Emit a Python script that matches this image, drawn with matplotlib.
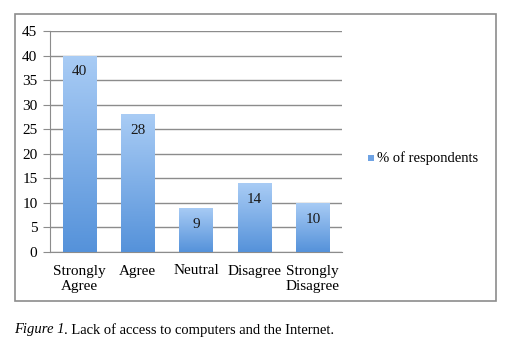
import matplotlib
matplotlib.use('Agg')
import matplotlib.pyplot as plt
import numpy as np
from matplotlib.colors import LinearSegmentedColormap
from matplotlib.patches import Rectangle

categories = ['Strongly\nAgree', 'Agree', 'Neutral', 'Disagree', 'Strongly\nDisagree']
values = [40, 28, 9, 14, 10]
series_name = '% of respondents'
caption_italic = 'Figure 1'
caption_rest = '. Lack of access to computers and the Internet.'

plt.rcParams['font.family'] = ['Liberation Serif', 'DejaVu Serif']

fig = plt.figure(figsize=(5.07, 3.44), dpi=100)
# outer chart frame
fig.patches.append(Rectangle((15/507, 1-301/344), 481/507, 287/344, transform=fig.transFigure,
                             fill=False, edgecolor='#8c8c8c', lw=1.2))

ax = fig.add_axes([50/507, 1-252/344, 292/507, 221/344])
cmap = LinearSegmentedColormap.from_list('bar', ['#5592da', '#a9ccf5'])
grad = np.linspace(0, 1, 256).reshape(-1, 1)

x = np.arange(len(values))
bars = ax.bar(x, values, width=0.57, color='#7fb0ea', zorder=2)
for b in bars:
    b.set_alpha(0)
    im = ax.imshow(grad, cmap=cmap, origin='lower', aspect='auto', zorder=3,
                   extent=[b.get_x(), b.get_x()+b.get_width(), 0, b.get_height()])
    im.set_clip_path(Rectangle((b.get_x(), 0), b.get_width(), b.get_height(), transform=ax.transData))

for xi, v in zip(x, values):
    ax.text(xi, v - 3.3, str(v), ha='center', va='center', fontsize=11, color='#1a1a1a', zorder=4)

ax.set_xlim(-0.5, len(values)-0.5)
ax.set_ylim(0, 45)
ax.set_yticks(np.arange(0, 46, 5))
ax.set_xticks(x)
ax.set_xticklabels(categories, fontsize=11, linespacing=1.25)
ax.tick_params(axis='y', labelsize=11, length=5, color='#8c8c8c', pad=4)
ax.tick_params(axis='x', length=0, pad=9)
ax.yaxis.grid(True, color='#8c8c8c', lw=1.0, zorder=0)
ax.set_axisbelow(True)
for s in ['top', 'right']:
    ax.spines[s].set_visible(False)
ax.spines['left'].set_color('#8c8c8c')
ax.spines['bottom'].set_color('#8c8c8c')

# legend
fig.patches.append(Rectangle((368/507, 1-161/344), 6/507, 6/344, transform=fig.transFigure,
                             facecolor='#6fa3e4', edgecolor='none'))
fig.text(377/507, 1-158/344, series_name, fontsize=10.5, va='center', ha='left')

fig.text(14/507, 1-330/344, caption_italic, fontsize=10.5, style='italic', va='center', ha='left')
fig.text(64/507, 1-330/344, caption_rest, fontsize=10.5, va='center', ha='left')

fig.savefig('out.png', dpi=100)
